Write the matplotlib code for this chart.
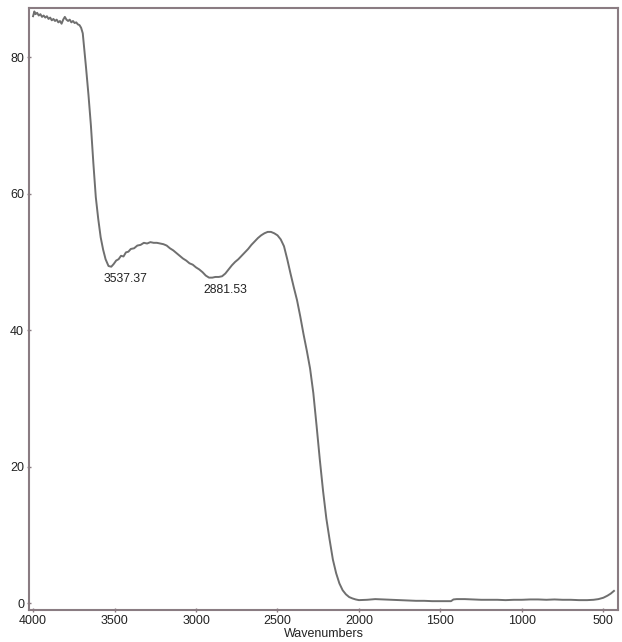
import numpy as np
import matplotlib.pyplot as plt

plt.rcParams['font.family'] = ['Liberation Sans', 'DejaVu Sans']

# spectrum (wavenumber, transmittance)
wavenumber = [4000, 3992, 3985, 3975, 3965, 3955, 3945, 3935, 3925, 3915,
              3905, 3895, 3885, 3875, 3865, 3855, 3845, 3835, 3825, 3815,
              3805, 3795, 3785, 3775, 3765, 3755, 3745, 3735, 3725, 3715,
              3705, 3695, 3685, 3675, 3660, 3645, 3630, 3615, 3600, 3585,
              3570, 3555, 3537, 3520, 3505, 3490, 3475, 3460, 3445, 3430,
              3415, 3400, 3380, 3360, 3340, 3320, 3300, 3280, 3260, 3240,
              3220, 3200, 3180, 3160, 3140, 3120, 3100, 3080, 3060, 3040,
              3020, 3000, 2980, 2960, 2940, 2920, 2900, 2881, 2860, 2840,
              2820, 2800, 2780, 2760, 2740, 2720, 2700, 2680, 2660, 2640,
              2620, 2600, 2580, 2560, 2540, 2520, 2500, 2480, 2460, 2440,
              2420, 2400, 2380, 2360, 2340, 2320, 2300, 2280, 2260, 2240,
              2220, 2200, 2180, 2160, 2140, 2120, 2100, 2080, 2060, 2040,
              2020, 2000, 1950, 1900, 1850, 1800, 1750, 1700, 1650, 1600,
              1550, 1500, 1450, 1435, 1420, 1400, 1350, 1300, 1250, 1200,
              1150, 1100, 1050, 1000, 950, 900, 850, 800, 750, 700,
              650, 600, 560, 530, 500, 475, 455, 435]
transmittance = [86.0, 86.7, 86.3, 86.5, 86.1, 86.3, 85.9, 86.1, 85.8, 86.0,
                 85.6, 85.8, 85.4, 85.6, 85.3, 85.5, 85.1, 85.3, 84.9, 85.5,
                 85.9, 85.5, 85.3, 85.5, 85.1, 85.3, 85.0, 85.1, 84.8, 84.7,
                 84.3, 83.5, 81.0, 78.5, 74.5, 70.0, 64.5, 59.5, 56.3, 53.6,
                 51.8, 50.4, 49.4, 49.3, 49.7, 50.2, 50.4, 50.9, 50.8, 51.4,
                 51.5, 51.9, 52.0, 52.4, 52.5, 52.8, 52.7, 52.9, 52.8, 52.8,
                 52.7, 52.6, 52.4, 52.0, 51.7, 51.3, 50.9, 50.5, 50.2, 49.8,
                 49.6, 49.2, 48.9, 48.5, 48.0, 47.7, 47.7, 47.8, 47.8, 47.9,
                 48.3, 48.9, 49.5, 50.0, 50.4, 50.9, 51.4, 51.9, 52.5, 53.0,
                 53.5, 53.9, 54.2, 54.4, 54.4, 54.2, 53.9, 53.3, 52.3, 50.4,
                 48.3, 46.3, 44.4, 42.0, 39.4, 37.0, 34.4, 30.8, 26.0, 21.0,
                 16.4, 12.4, 9.3, 6.4, 4.4, 2.9, 1.9, 1.3, 0.9, 0.7,
                 0.55, 0.45, 0.5, 0.6, 0.55, 0.5, 0.45, 0.4, 0.35, 0.35,
                 0.3, 0.3, 0.3, 0.3, 0.55, 0.6, 0.6, 0.55, 0.5, 0.5,
                 0.5, 0.45, 0.5, 0.5, 0.55, 0.55, 0.5, 0.55, 0.5, 0.5,
                 0.45, 0.45, 0.5, 0.6, 0.8, 1.1, 1.4, 1.8]

peak_labels = ['3537.37', '2881.53']
peak_x = [3537.37, 2881.53]
peak_y = [49.4, 47.8]

frame_color = '#8a7c82'
label_shift = [12, 7]  # points, labels sit a little right of the minima

fig = plt.figure(figsize=(6.22, 6.42), dpi=100)
ax = fig.add_axes([0.0466, 0.0498, 0.9470, 0.9377])

ax.plot(wavenumber, transmittance, color='#6f6f6f', lw=1.4)

for lab, px, py, dx in zip(peak_labels, peak_x, peak_y, label_shift):
    ax.annotate(lab, (px, py), xytext=(dx, -5), textcoords='offset points',
                ha='center', va='top', fontsize=8.8, color='#222222')

ax.set_xlim(4025, 410)
ax.set_ylim(-1, 87.2)
ax.set_xticks([4000, 3500, 3000, 2500, 2000, 1500, 1000, 500])
ax.set_yticks([0, 20, 40, 60, 80])
ax.tick_params(labelsize=9, length=3, width=1, color=frame_color,
               labelcolor='#222222', direction='inout', pad=2)
ax.set_xlabel('Wavenumbers', fontsize=9, color='#222222', labelpad=1)

for s in ax.spines.values():
    s.set_color(frame_color)
    s.set_linewidth(1.5)

fig.savefig('out.png', dpi=100, facecolor='white')
